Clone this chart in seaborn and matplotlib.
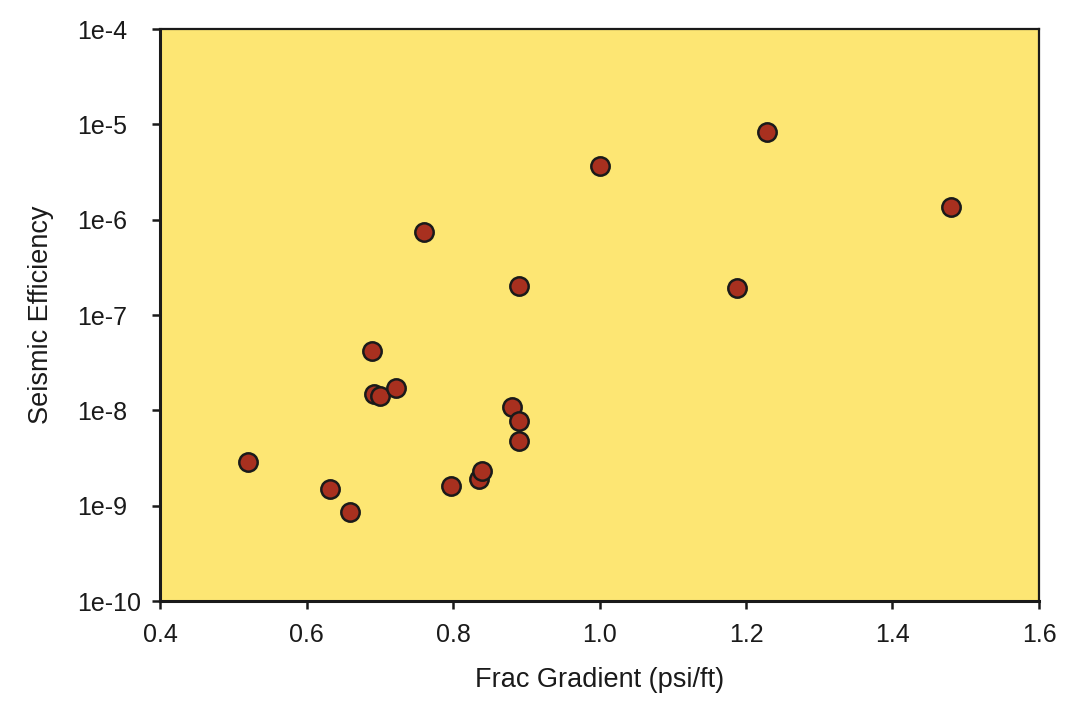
import matplotlib
matplotlib.use('Agg')
import matplotlib.pyplot as plt
import seaborn as sns
import pandas as pd
import numpy as np
from matplotlib.ticker import FuncFormatter, FixedLocator

# values
frac_gradient = [0.52, 0.632, 0.660, 0.690, 0.692, 0.700, 0.722, 0.760, 0.797, 0.835,
                 0.840, 0.880, 0.890, 0.890, 0.890, 1.000, 1.188, 1.229, 1.480]
seismic_eff = [2.9e-9, 1.5e-9, 8.6e-10, 4.2e-8, 1.5e-8, 1.4e-8, 1.7e-8, 7.5e-7, 1.6e-9, 1.9e-9,
               2.3e-9, 1.08e-8, 7.7e-9, 4.8e-9, 2.0e-7, 3.7e-6, 1.9e-7, 8.4e-6, 1.37e-6]
x_ticks = [0.4, 0.6, 0.8, 1.0, 1.2, 1.4, 1.6]
y_exponents = [-10, -9, -8, -7, -6, -5, -4]

df = pd.DataFrame({'Frac Gradient': frac_gradient, 'Seismic Efficiency': seismic_eff})

sns.set_style('ticks')
plt.rcParams['font.family'] = ['Liberation Sans', 'DejaVu Sans']

fig = plt.figure(figsize=(10.9, 7.1), dpi=100)
ax = fig.add_axes([0.1468, 0.1535, 0.8064, 0.8055])
ax.set_facecolor('#fde673')

sns.scatterplot(data=df, x='Frac Gradient', y='Seismic Efficiency', ax=ax,
                s=175, color='#a8301f', edgecolor='#1a1a1a', linewidth=1.8, zorder=3)

ax.set_yscale('log')
ax.set_xlim(0.4, 1.6)
ax.set_ylim(1e-10, 1e-4)
ax.set_xticks(x_ticks)
ax.xaxis.set_major_formatter(FuncFormatter(lambda v, p: f'{v:.1f}'))
ax.yaxis.set_major_locator(FixedLocator([10.0 ** e for e in y_exponents]))
ax.yaxis.set_minor_locator(FixedLocator([]))
ax.yaxis.set_major_formatter(FuncFormatter(lambda v, p: f'1e{int(round(np.log10(v)))}'))

ax.tick_params(axis='both', direction='out', length=6, width=1.8, color='#1a1a1a',
               labelsize=18, labelcolor='#1a1a1a')
ax.tick_params(axis='x', pad=10)
# y labels in the reference are left-aligned in one column
ax.tick_params(axis='y', pad=54)
for lab in ax.get_yticklabels():
    lab.set_horizontalalignment('left')

for side in ['left', 'bottom']:
    ax.spines[side].set_linewidth(2.2)
    ax.spines[side].set_color('#1a1a1a')
for side in ['top', 'right']:
    ax.spines[side].set_visible(True)
    ax.spines[side].set_linewidth(1.6)
    ax.spines[side].set_color('#1a1a1a')

ax.set_xlabel('Frac Gradient (psi/ft)', fontsize=19.5, color='#1a1a1a', labelpad=14)
ax.set_ylabel('Seismic Efficiency', fontsize=19.5, color='#1a1a1a', labelpad=16)

fig.savefig('out.png', dpi=100, facecolor='white')
